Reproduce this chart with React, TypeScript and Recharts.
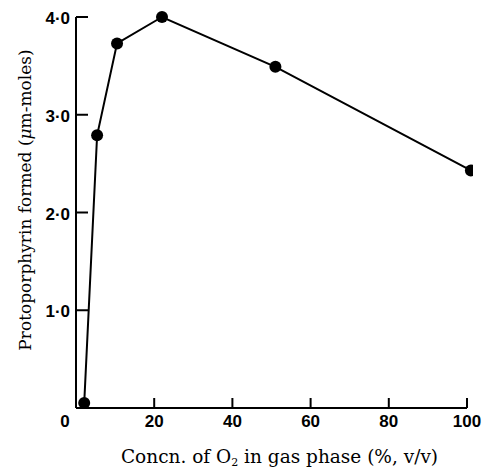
import React from "react";
import { LineChart, Line, XAxis, YAxis } from "recharts";

const oxygenPct = [2.1, 5.4, 10.5, 22, 51, 101];
const protoporphyrin = [0.05, 2.79, 3.73, 4.0, 3.49, 2.43];
const xTicks = [0, 20, 40, 60, 80, 100];
const yTicks = [1, 2, 3, 4];

const data = oxygenPct.map((x, i) => ({ x, y: protoporphyrin[i] }));

const tickFont = { fontFamily: "Liberation Sans, Arial, sans-serif", fontWeight: 700, fontSize: 17, fill: "#000" };
const titleFont = { fontFamily: "DejaVu Serif, serif", fontSize: 17, fill: "#000" };

function XTick(props: any) {
  const { x, y, payload } = props;
  const zero = payload.value === 0;
  return (
    <g>
      {!zero && <line x1={x} x2={x} y1={y} y2={y - 10} stroke="#000" strokeWidth={2} />}
      <text x={zero ? x - 11 : x} y={y} dy={19} textAnchor="middle" {...tickFont}>
        {payload.value}
      </text>
    </g>
  );
}

function YTick(props: any) {
  const { x, y, payload } = props;
  return (
    <g>
      <line x1={x} x2={x + 12} y1={y} y2={y} stroke="#000" strokeWidth={2} />
      <text x={x - 6} y={y} dy={7} textAnchor="end" {...tickFont}>
        {payload.value.toFixed(1).replace(".", "·")}
      </text>
    </g>
  );
}

function XTitle(props: any) {
  const { viewBox } = props;
  const cx = viewBox.x + viewBox.width / 2 + 8;
  return (
    <text x={cx} y={463} textAnchor="middle" {...titleFont} fontSize={18.5}>
      Concn. of O<tspan fontSize={11} dy={3}>2</tspan>
      <tspan dy={-3}> in gas phase (%, v/v)</tspan>
    </text>
  );
}

function YTitle() {
  return (
    <text x={31} y={200} textAnchor="middle" transform="rotate(-90 31 200)" {...titleFont}>
      Protoporphyrin formed (<tspan fontStyle="italic">μ</tspan>m-moles)
    </text>
  );
}

export default function App() {
  return (
    <div style={{ position: "absolute", left: 0, top: 0, width: 484, height: 472, background: "#fff" }}>
      <LineChart width={484} height={472} data={data} margin={{ top: 17, right: 17, bottom: 14, left: 16 }}>
        <XAxis
          type="number"
          dataKey="x"
          domain={[0, 100]}
          allowDataOverflow
          ticks={xTicks}
          tickLine={false}
          tickSize={0}
          tickMargin={0}
          tick={<XTick />}
          axisLine={{ stroke: "#000", strokeWidth: 2 }}
          height={50}
          label={<XTitle />}
        />
        <YAxis
          type="number"
          dataKey="y"
          domain={[0, 4]}
          ticks={yTicks}
          tickLine={false}
          tickSize={0}
          tickMargin={0}
          tick={<YTick />}
          axisLine={{ stroke: "#000", strokeWidth: 2 }}
          width={60}
          label={<YTitle />}
        />
        <Line
          type="linear"
          dataKey="y"
          stroke="#000"
          strokeWidth={2}
          dot={{ r: 6, fill: "#000", stroke: "#000", strokeWidth: 0, clipDot: false }}
          isAnimationActive={false}
        />
      </LineChart>
    </div>
  );
}
